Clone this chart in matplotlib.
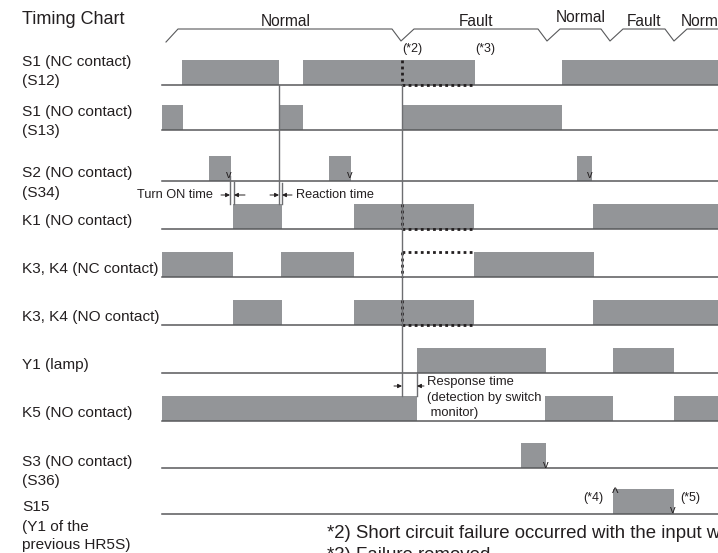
import matplotlib.pyplot as plt

plt.rcParams['font.family'] = ['Liberation Sans', 'DejaVu Sans']

# signal rows: label, baseline and "on" intervals (time axis in chart units)
row_labels = ["S1 (NC contact)\n(S12)", "S1 (NO contact)\n(S13)", "S2 (NO contact)\n(S34)",
              "K1 (NO contact)", "K3, K4 (NC contact)", "K3, K4 (NO contact)",
              "Y1 (lamp)", "K5 (NO contact)", "S3 (NO contact)\n(S36)",
              "S15\n(Y1 of the\nprevious HR5S)"]
on_s1_nc = [(182, 279), (303, 475), (562, 718)]
on_s1_no = [(162, 183), (279, 303), (403, 562)]
on_s2 = [(209, 231), (329, 351), (577, 592)]
on_k1 = [(233, 282), (354, 474), (593, 718)]
on_k34_nc = [(162, 233), (281, 354), (474, 594)]
on_k34_no = [(233, 282), (354, 474), (593, 718)]
on_y1 = [(417, 546), (613, 674)]
on_k5 = [(162, 417), (545, 613), (674, 718)]
on_s3 = [(521, 546)]
on_s15 = [(613, 674)]
signals = [on_s1_nc, on_s1_no, on_s2, on_k1, on_k34_nc, on_k34_no, on_y1, on_k5, on_s3, on_s15]

phases = ["Normal", "Fault", "Normal", "Fault", "Normal"]
phase_bounds = [166, 401, 547, 610, 674, 760]

fault_t = 402      # short circuit (*2)
removed_t = 475    # failure removed (*3)

# layout
base_y = [85, 130, 181, 229, 277, 325, 373, 421, 468, 514]
label_y = [[62, 81], [112, 131], [173, 193], [221], [269], [317], [365], [413], [462, 481], [507, 527, 545]]
bar_h = 25
x0, x1 = 162, 718
GRAY = '#939598'
LINE = '#58595b'
TXT = '#231f20'

fig = plt.figure(figsize=(7.18, 5.53), dpi=100)
ax = fig.add_axes([0, 0, 1, 1])
ax.set_xlim(0, 718)
ax.set_ylim(553, 0)
ax.axis('off')

ax.text(22, 20, "Timing Chart", fontsize=13, va='center', color=TXT)

for lab, ys in zip(row_labels, label_y):
    for line, y in zip(lab.split("\n"), ys):
        ax.text(22, y, line, fontsize=11.1, va='center', color=TXT)

for on, y in zip(signals, base_y):
    ax.broken_barh([(a, b - a) for a, b in on], (y - bar_h, bar_h), facecolors=GRAY, edgecolors='none')
    ax.plot([x0, x1], [y, y], color=LINE, lw=1.1)

# phase bracket at top
px, py = [phase_bounds[0], phase_bounds[0] + 12], [42, 29]
for b in phase_bounds[1:-1]:
    px += [b - 9, b, b + 13]
    py += [29, 41, 29]
px.append(x1)
py.append(29)
ax.plot(px, py, color=LINE, lw=0.8, clip_on=True)
for i, name in enumerate(phases):
    a, b = phase_bounds[i], phase_bounds[i + 1]
    yy = 18 if i == 2 else 21
    if i == len(phases) - 1:
        ax.text(a + 7, yy, name, fontsize=11.2, va='center', ha='left', color=TXT, clip_on=True)
    else:
        ax.text((a + b) / 2 + 2, yy, name, fontsize=11.2, va='center', ha='center', color=TXT)

ax.text(412, 49, "(*2)", fontsize=9, ha='center', va='center', color=TXT)
ax.text(485, 49, "(*3)", fontsize=9, ha='center', va='center', color=TXT)

# dotted outlines after the fault
dot = dict(color='#231f20', lw=2, linestyle=(0, (1, 1.2)))
for r, edge in [(0, 'bottom'), (3, 'bottom'), (4, 'top'), (5, 'bottom')]:
    y = base_y[r]
    ax.plot([fault_t, fault_t], [y - bar_h, y], **dot)
    ye = y if edge == 'bottom' else y - bar_h
    ax.plot([fault_t, removed_t], [ye, ye], **dot)

# vertical reference lines
vl = dict(color='#6d6e71', lw=1.0)
ax.plot([fault_t, fault_t], [base_y[0], base_y[7] - bar_h], **vl)
ax.plot([279, 279], [base_y[0], base_y[3] - bar_h], **vl)
ax.plot([282, 282], [base_y[2] + 2, base_y[3] - bar_h], **vl)
ax.plot([230, 230], [176, base_y[3] - bar_h], **vl)
ax.plot([234, 234], [base_y[2] + 1, base_y[3] - bar_h], **vl)
ax.plot([417, 417], [base_y[6], base_y[7] - bar_h], **vl)

# small dimension arrows
arr = dict(arrowstyle='-|>', color='#231f20', lw=0.7, mutation_scale=6, shrinkA=0, shrinkB=0)
for tail, head, y in [(221, 230, 195), (245, 234, 195), (270, 279, 195), (292, 282, 195),
                      (394, 402, 386), (424, 417, 386)]:
    ax.annotate('', xy=(head, y), xytext=(tail, y), arrowprops=arr)

ax.text(213, 195, "Turn ON time", fontsize=9.2, ha='right', va='center', color=TXT)
ax.text(296, 195, "Reaction time", fontsize=9.2, ha='left', va='center', color=TXT)
ax.text(427, 382, "Response time", fontsize=9.4, ha='left', va='center', color=TXT)
ax.text(427, 398, "(detection by switch", fontsize=9.4, ha='left', va='center', color=TXT)
ax.text(427, 413, " monitor)", fontsize=9.4, ha='left', va='center', color=TXT)

# edge markers
for x, y in [(229, 175), (350, 175), (590, 175), (546, 465), (673, 510)]:
    ax.text(x, y, "v", fontsize=8, ha='center', va='center', color=TXT)
ax.text(615, 494, "^", fontsize=10, ha='center', va='center', color=TXT)
ax.text(593, 498, "(*4)", fontsize=9, ha='center', va='center', color=TXT)
ax.text(690, 498, "(*5)", fontsize=9, ha='center', va='center', color=TXT)

# footnotes
ax.text(327, 533, "*2) Short circuit failure occurred with the input wiring", fontsize=13.4,
        ha='left', va='center', color=TXT)
ax.text(327, 555, "*3) Failure removed", fontsize=13.4, ha='left', va='center', color=TXT)

plt.savefig("out.png", dpi=100)
